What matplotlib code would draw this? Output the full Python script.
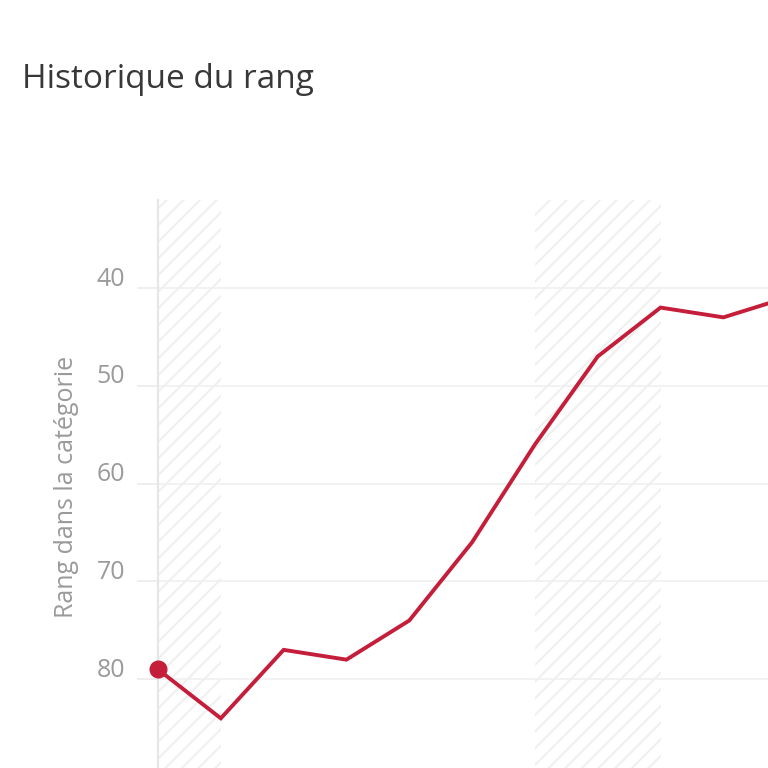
import numpy as np
import matplotlib.pyplot as plt
import matplotlib.transforms as mtransforms

# 順位データ（インデックス順）
periods = list(range(11))
ranks = [79, 84, 77, 78, 74, 66, 56, 47, 42, 43, 41]
# ハッチ帯（開始・終了インデックス）
band_starts = [0, 6]
band_ends = [1, 8]
ytick_values = [40, 50, 60, 70, 80]

title_text = "Historique du rang"
ylabel_text = "Rang dans la catégorie"

plt.rcParams['font.family'] = ['Open Sans', 'DejaVu Sans']
plt.rcParams['hatch.linewidth'] = 1.4

fig = plt.figure(figsize=(7.68, 7.68), dpi=100)
# 右下がはみ出すように配置
ax = fig.add_axes([158 / 768, -9 / 768, 691 / 768, 577 / 768])

for s, e in zip(band_starts, band_ends):
    ax.axvspan(s, e, facecolor='none', edgecolor='#efefef', hatch='//', linewidth=0, zorder=0)

ax.plot(periods, ranks, color='#c41e3a', linewidth=2.8, zorder=3, solid_joinstyle='miter')
ax.plot(periods[0], ranks[0], 'o', color='#c41e3a', markersize=12, zorder=4, clip_on=False)

ax.set_xlim(0, 11)
ax.set_ylim(90, 31)
ax.set_xticks([])
ax.set_yticks(ytick_values)
ax.grid(axis='y', color='#f0f0f0', linewidth=1.2)
ax.tick_params(axis='y', length=15, width=1.2, color='#ebebeb', labelcolor='#9a9a9a',
               labelsize=18, pad=8.5)

# ラベルを少し上にずらす
offset = mtransforms.ScaledTranslation(0, 12 / 100, fig.dpi_scale_trans)
for lab in ax.get_yticklabels():
    lab.set_transform(lab.get_transform() + offset)

for side in ['top', 'right', 'bottom']:
    ax.spines[side].set_visible(False)
ax.spines['left'].set_color('#e6e6e6')
ax.spines['left'].set_linewidth(1.5)

ax.set_ylabel(ylabel_text, color='#9a9a9a', fontsize=18)
ax.yaxis.set_label_coords(-(158 - 79) / 691, (777 - 487) / 577)

fig.text(22 / 768, 1 - 79 / 768, title_text, fontsize=24, color='#383838', va='center', ha='left')

fig.savefig('out.png', dpi=100)
